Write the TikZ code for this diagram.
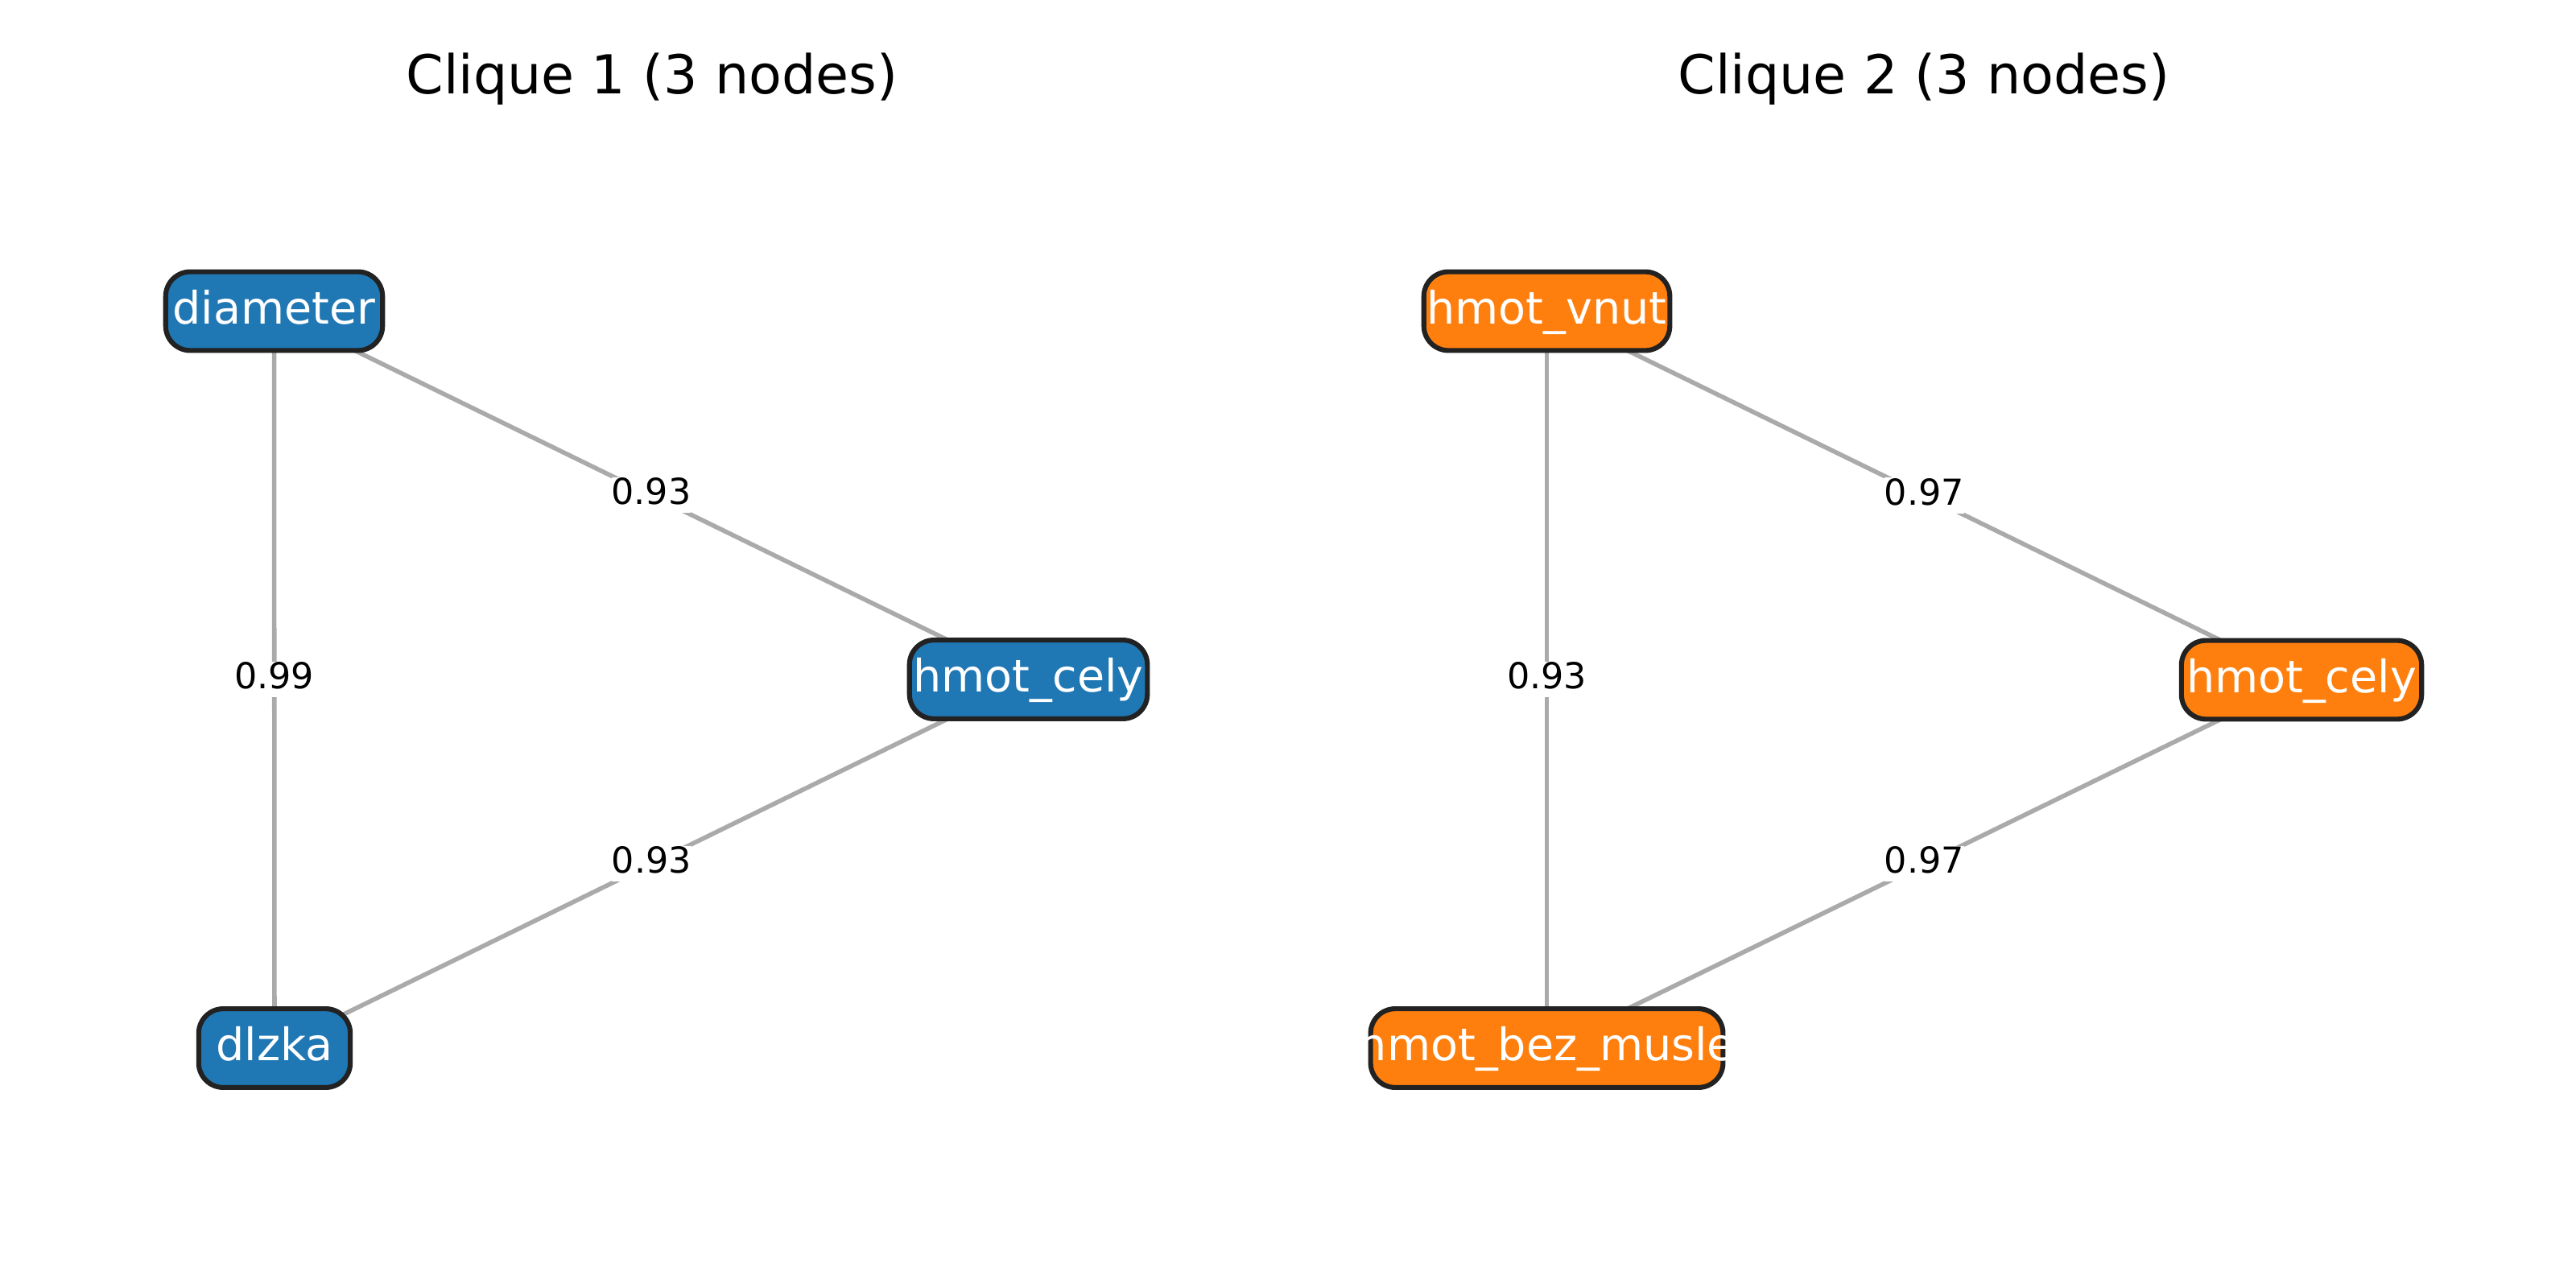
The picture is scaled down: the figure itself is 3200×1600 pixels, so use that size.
\documentclass[tikz,border=0pt]{standalone}
\usepackage{fontspec}
\setmainfont{DejaVu Sans}
\definecolor{tabblue}{HTML}{1F77B4}
\definecolor{taborange}{HTML}{FF7F0E}
\definecolor{edgegray}{HTML}{AAAAAA}
\definecolor{boxborder}{HTML}{222222}
\pgfdeclarelayer{bg}
\pgfsetlayers{bg,main}
\tikzset{
  nodebox/.style={draw=boxborder, line width=1.1pt, rounded corners=5.5pt, inner sep=0pt,
    minimum height=17.6pt},
  bluebox/.style={nodebox, fill=tabblue},
  orangebox/.style={nodebox, fill=taborange},
  nodetext/.style={inner sep=0pt, text=white, font=\fontsize{10}{12}\selectfont,
    text height=7.8pt, text depth=2.2pt},
  edge/.style={draw=edgegray, line width=1pt},
  elabel/.style={fill=white, inner sep=0pt, font=\fontsize{8}{9.6}\selectfont,
    text height=6.1pt, text depth=1.9pt, minimum height=8pt},
  title/.style={inner sep=0pt, font=\fontsize{12}{14.4}\selectfont,
    text height=9.1pt, text depth=2.9pt}
}
\begin{document}
\begin{tikzpicture}[x=0.18pt,y=-0.18pt]
\useasboundingbox (0,0) rectangle (3200,1600);
% titles
\node[title] (t1) at (810,99) {Clique 1 (3 nodes)};
\node[title] (t2) at (2390,99) {Clique 2 (3 nodes)};
% clique 1 boxes
\node[bluebox, minimum width=48.5pt] (d) at (340.5,386.5) {};
\node[bluebox, minimum width=33.9pt] (l) at (341,1302) {};
\node[bluebox, minimum width=53.2pt] (h1) at (1277.5,844) {};
\node[nodetext] (dt) at (d.center) {diameter};
\node[nodetext] (lt) at (l.center) {dlzka};
\node[nodetext] (h1t) at (h1.center) {hmot\_cely};
% clique 2 boxes
\node[orangebox, minimum width=55pt] (v) at (1921.5,386.5) {};
\node[orangebox, minimum width=78.8pt] (b) at (1921.5,1302) {};
\node[orangebox, minimum width=53.7pt] (h2) at (2859,844.5) {};
\node[nodetext] (vt) at (v.center) {hmot\_vnut};
\node[nodetext] (bt) at (b.center) {hmot\_bez\_musle};
\node[nodetext] (h2t) at (h2.center) {hmot\_cely};
% edges
\begin{pgfonlayer}{bg}
\draw[edge] (d.center) -- node[elabel] (e1) {0.93} (h1.center);
\draw[edge] (d.center) -- node[elabel] (e2) {0.99} (l.center);
\draw[edge] (h1.center) -- node[elabel] (e3) {0.93} (l.center);
\draw[edge] (v.center) -- node[elabel] (e4) {0.97} (h2.center);
\draw[edge] (v.center) -- node[elabel] (e5) {0.93} (b.center);
\draw[edge] (h2.center) -- node[elabel] (e6) {0.97} (b.center);
\end{pgfonlayer}
\end{tikzpicture}
\end{document}
